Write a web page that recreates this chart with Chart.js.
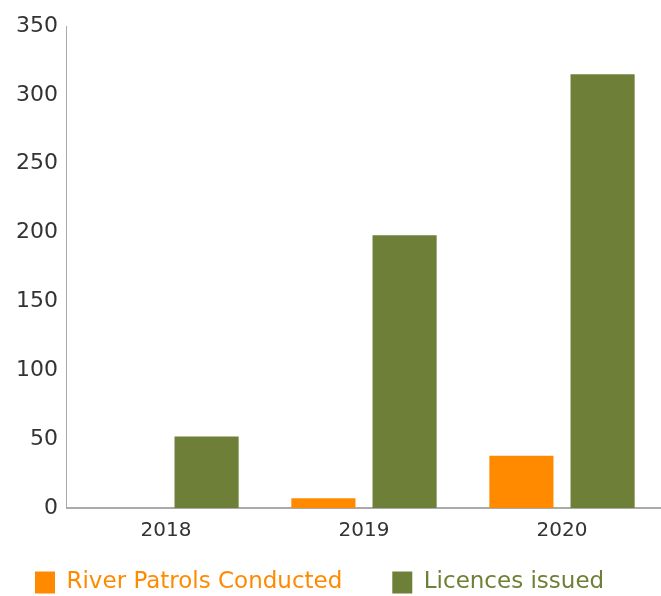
<!DOCTYPE html>
<html>
<head>
<meta charset="utf-8">
<script src="https://cdn.jsdelivr.net/npm/chart.js@4/dist/chart.umd.min.js"></script>
<style>
  html, body { margin: 0; padding: 0; background: #fff; }
  #wrap { width: 661px; height: 596px; }
</style>
</head>
<body>
<div id="wrap"><canvas id="patrolChart" width="661" height="596"></canvas></div>
<script>
    // values
    var years = ['2018', '2019', '2020'];
    var riverPatrols = [0, 7, 38];
    var licencesIssued = [52, 198, 315];

    var orange = '#FF8A00';
    var green = '#6E8037';
    var fontFamily = '"DejaVu Sans", sans-serif';

    // legend row in the original sits a bit left of centre, start it at x=35
    var legendShift = {
        id: 'legendShift',
        afterUpdate: function (chart) {
            var lg = chart.legend;
            if (lg && lg.lineWidths && lg.lineWidths.length === 1) {
                lg.lineWidths[0] = lg.left + lg.options.labels.padding + lg.right - 70;
            }
        }
    };

    var ctx = document.getElementById('patrolChart').getContext('2d');
    var patrolChart = new Chart(ctx, {
        type: 'bar',
        data: {
            labels: years,
            datasets: [{
                label: 'River Patrols Conducted',
                data: riverPatrols,
                backgroundColor: orange,
                categoryPercentage: 0.82,
                barPercentage: 0.79
            }, {
                label: 'Licences issued',
                data: licencesIssued,
                backgroundColor: green,
                categoryPercentage: 0.82,
                barPercentage: 0.79
            }]
        },
        plugins: [legendShift],
        options: {
            responsive: false,
            animation: false,
            layout: {
                padding: { top: 26, right: 0, left: 7, bottom: -8 }
            },
            plugins: {
                legend: {
                    position: 'bottom',
                    labels: {
                        boxWidth: 20,
                        boxHeight: 22,
                        padding: 28,
                        font: { family: fontFamily, size: 23 },
                        generateLabels: function (chart) {
                            var items = Chart.defaults.plugins.legend.labels.generateLabels(chart);
                            items.forEach(function (it, i) {
                                it.fontColor = it.fillStyle;
                                it.lineWidth = 0;
                                // wider gap between the two entries
                                if (i === 0) it.text = it.text + '   ';
                            });
                            return items;
                        }
                    }
                },
                tooltip: { enabled: false }
            },
            scales: {
                x: {
                    grid: { display: false, drawTicks: false },
                    border: { display: true, color: '#aaaaaa', width: 2 },
                    ticks: {
                        color: '#333333',
                        font: { family: fontFamily, size: 20 },
                        padding: 11
                    },
                    afterFit: function (scale) {
                        scale.height = 35;
                    }
                },
                y: {
                    min: 0,
                    max: 350,
                    grid: { display: false, drawTicks: false },
                    border: { display: true, color: '#aaaaaa', width: 1 },
                    ticks: {
                        stepSize: 50,
                        color: '#333333',
                        font: { family: fontFamily, size: 22 },
                        padding: 9
                    }
                }
            }
        }
    });
</script>
</body>
</html>
